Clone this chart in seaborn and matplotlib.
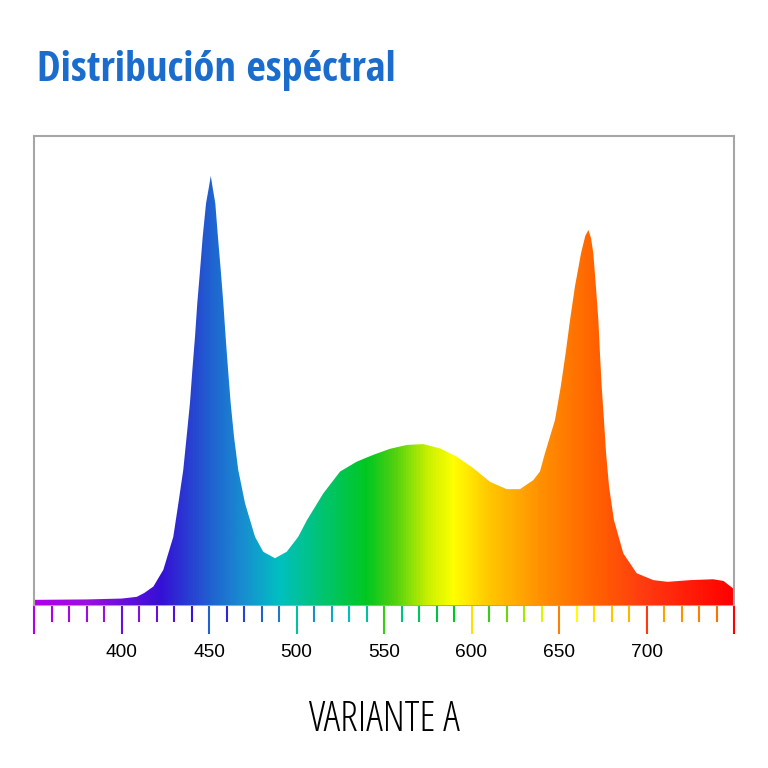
import numpy as np
import pandas as pd
import matplotlib
matplotlib.use("Agg")
import matplotlib.pyplot as plt
from matplotlib import font_manager
from matplotlib.colors import LinearSegmentedColormap
import seaborn as sns

# spectrum (wavelength nm, relative intensity, blue peak = 100)
wavelength = [350, 380, 400, 408.7, 413, 418.2, 423.9, 429.6, 432.5, 435.3,
              437.2, 439.1, 440.5, 442, 443.3, 444.9, 446.4, 448.3, 450, 451,
              452.2, 453.6, 455.1, 456.7, 458.2, 459.5, 460.9, 462.4, 464.3,
              466.7, 470.6, 476.3, 481, 487.7, 494.4, 501, 506, 515.3, 524.9,
              534.4, 543.9, 553.4, 563, 572.5, 582, 591.5, 601, 610.6, 620.1,
              627.7, 635.3, 639.1, 642, 647.7, 651, 653.8, 656.3, 659.1, 662.6,
              665, 666.8, 668.3, 669.6, 671.1, 672.5, 673.4, 674.4, 675.7,
              676.9, 678.6, 681.4, 686.8, 694.4, 703.9, 712, 725, 738, 744, 750]
intensity = [1.2, 1.3, 1.5, 1.9, 2.8, 4.3, 8.2, 15.9, 23.7, 31.5,
             39.2, 47, 54.8, 62.5, 70.3, 78.1, 85.8, 93.6, 97.5, 100,
             97, 93.6, 85.8, 78.1, 70.3, 62.5, 54.8, 47, 39.2,
             31.5, 23.7, 15.9, 12.4, 10.9, 12.4, 15.9, 19.8, 26, 31.1,
             33.4, 35, 36.4, 37.3, 37.5, 36.5, 34.6, 31.9, 28.7, 27,
             27, 29.1, 31.1, 35.4, 43.1, 50.9, 58.7, 66.4, 74.2, 82,
             86, 87.4, 85.5, 82, 74.2, 66.4, 58.7, 50.9, 43.1,
             35.4, 27.6, 19.8, 12, 7.4, 5.8, 5.4, 5.8, 6, 5.6, 3.7]

tick_minor = list(range(350, 751, 10))
tick_major = list(range(350, 751, 50))
tick_labels = ["", "400", "450", "500", "550", "600", "650", "700", ""]

title = "Distribución espéctral"
caption = "VARIANTE A"

# spectrum colour stops
stop_nm = [350, 380, 422, 450, 470, 490, 540, 556, 575, 590, 610, 640, 670, 700, 750]
stop_col = ["#b000e8", "#9a0fe2", "#3510d6", "#2060d0", "#1790d0", "#00c0c0",
            "#00c820", "#50d010", "#c8f000", "#ffff00", "#ffc800", "#ff9000",
            "#ff6400", "#ff3a10", "#ff0000"]
lo, hi = 350, 750
spec_cmap = LinearSegmentedColormap.from_list(
    "spec", [((n - lo) / (hi - lo), c) for n, c in zip(stop_nm, stop_col)])

sns.set_theme(style="white")


def pick_font(weight, size):
    cands = []
    for f in font_manager.fontManager.ttflist:
        st = f.stretch
        cond = ("Condensed" in f.name or "Narrow" in f.name or
                (isinstance(st, str) and "condensed" in st) or
                (isinstance(st, int) and st < 500))
        if cond:
            w = f.weight if isinstance(f.weight, int) else 400
            pref = 0 if "Open Sans" in f.name else (1 if "Roboto" in f.name else 2)
            cands.append((pref, abs(w - weight), f.fname))
    if cands:
        cands.sort()
        return font_manager.FontProperties(fname=cands[0][2], size=size)
    return font_manager.FontProperties(family="Open Sans", weight=weight, size=size,
                                       stretch="condensed")


df = pd.DataFrame({"nm": wavelength, "rel": intensity})

fig = plt.figure(figsize=(7.68, 7.68), dpi=100)
ax = fig.add_axes([34 / 768, 163 / 768, 700 / 768, 469 / 768])

sns.lineplot(data=df, x="nm", y="rel", ax=ax, linewidth=0, color="white")
poly = ax.fill_between(df["nm"], 0, df["rel"], color="none", linewidth=0)
grad = np.linspace(0, 1, 800).reshape(1, -1)
img = ax.imshow(grad, cmap=spec_cmap, aspect="auto", extent=[lo, hi, 0, 110],
                origin="lower", zorder=2, interpolation="bilinear")
img.set_clip_path(poly.get_paths()[0], transform=ax.transData)

ax.set_xlim(lo, hi)
ax.set_ylim(0, 109.3)
ax.set_yticks([])
ax.set_xlabel("")
ax.set_ylabel("")

ax.set_xticks(tick_major)
ax.set_xticklabels(tick_labels)
ax.set_xticks(tick_minor, minor=True)
ax.tick_params(axis="x", which="major", length=21, width=1.5, direction="out",
               pad=7, labelsize=13.8, bottom=True)
ax.tick_params(axis="x", which="minor", length=12, width=1.5, direction="out",
               bottom=True)
for lbl in ax.get_xticklabels():
    lbl.set_fontfamily("Liberation Sans")
    lbl.set_color("black")
for t, nm in zip(ax.xaxis.get_major_ticks(), tick_major):
    t.tick1line.set_markeredgecolor(spec_cmap((nm - lo) / (hi - lo)))
for t, nm in zip(ax.xaxis.get_minor_ticks(), tick_minor):
    t.tick1line.set_markeredgecolor(spec_cmap((nm - lo) / (hi - lo)))

for s in ax.spines.values():
    s.set_color("#a6a6a6")
    s.set_linewidth(1.5)
ax.spines["bottom"].set_zorder(1)

fig.text(37 / 768, 1 - 81 / 768, title, color="#1a6dcc",
         fontproperties=pick_font(700, 30.5), ha="left", va="baseline")
fig.text(0.5, 37 / 768, caption, color="black",
         fontproperties=pick_font(300, 30), ha="center", va="baseline")

fig.savefig("out.png", dpi=100, facecolor="white")
